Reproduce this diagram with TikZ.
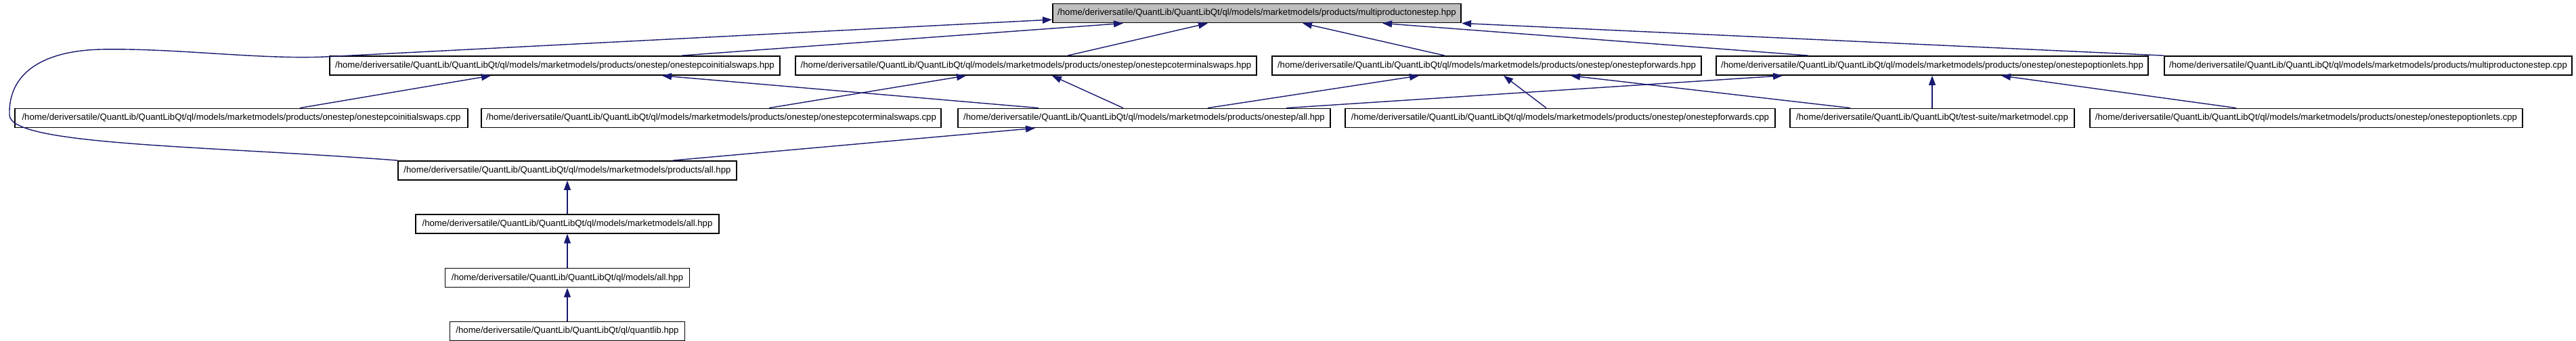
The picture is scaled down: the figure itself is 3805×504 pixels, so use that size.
\documentclass[tikz,border=0pt]{standalone}
\usepackage{fontspec}
\newfontfamily\doxfont{Liberation Sans}
\usetikzlibrary{arrows.meta, positioning, calc}
\definecolor{edgeblue}{HTML}{191970}
\definecolor{rootgray}{HTML}{BFBFBF}
\newcommand{\qlhome}{/home/deriversatile/QuantLib/QuantLibQt}
\newcommand{\mmprod}{\qlhome/ql/models/marketmodels/products}

\begin{document}
\begin{tikzpicture}[x=0.01cm, y=-0.01cm, >={Triangle[length=0.14cm, width=0.1cm]},
  filebox/.style={draw, line width=0.5pt, fill=white, minimum height=0.28cm,
                  inner sep=0pt, font=\doxfont\fontsize{3.75}{4.5}\selectfont},
  inc/.style={->, draw=edgeblue, line width=0.4pt}]
  \useasboundingbox (0,0) rectangle (3805,504);

  % the header itself
  \node[filebox, fill=rootgray, minimum width=6.03cm] (rt) at (1856.5,19.5)
    {\mmprod/multiproductonestep.hpp};

  % files that include it
  \node[filebox, minimum width=6.65cm] (cih) at (819.5,97) {\mmprod/onestep/onestepcoinitialswaps.hpp};
  \node[filebox, minimum width=6.81cm] (cth) at (1515.5,97) {\mmprod/onestep/onestepcoterminalswaps.hpp};
  \node[filebox, minimum width=6.34cm] (fwh) at (2196,97) {\mmprod/onestep/onestepforwards.hpp};
  \node[filebox, minimum width=6.38cm] (oph) at (2854,97) {\mmprod/onestep/onestepoptionlets.hpp};
  \node[filebox, minimum width=6.02cm] (mpc) at (3498,97) {\mmprod/multiproductonestep.cpp};

  \node[filebox, minimum width=6.69cm] (cic) at (356.5,174.5) {\mmprod/onestep/onestepcoinitialswaps.cpp};
  \node[filebox, minimum width=6.79cm] (ctc) at (1050.5,174.5) {\mmprod/onestep/onestepcoterminalswaps.cpp};
  \node[filebox, minimum width=5.50cm] (osa) at (1690,174.5) {\mmprod/onestep/all.hpp};
  \node[filebox, minimum width=6.35cm] (fwc) at (2304.5,174.5) {\mmprod/onestep/onestepforwards.cpp};
  \node[filebox, minimum width=4.20cm] (mmc) at (2854,174.5) {\qlhome/test-suite/marketmodel.cpp};
  \node[filebox, minimum width=6.39cm] (opc) at (3406.5,174.5) {\mmprod/onestep/onestepoptionlets.cpp};

  \node[filebox, minimum width=5.00cm] (pall) at (838,252) {\mmprod/all.hpp};
  \node[filebox, minimum width=4.47cm, below=0.49cm of pall] (mall) {\qlhome/ql/models/marketmodels/all.hpp};
  \node[filebox, minimum width=3.61cm, below=0.5cm of mall] (qall) {\qlhome/ql/models/all.hpp};
  \node[filebox, minimum width=3.47cm, below=0.49cm of qall] (ql) {\qlhome/ql/quantlib.hpp};

  % include edges
  \draw[inc] ($(cih.north)+(187.5,0)$) -- ($(rt.south)+(-197.5,0)$);
  \draw[inc] ($(cth.north)+(61.5,0)$) -- ($(rt.south)+(-72.5,0)$);
  \draw[inc] ($(fwh.north)+(-62,0)$) -- ($(rt.south)+(67.5,0)$);
  \draw[inc] ($(oph.north)+(-183,0)$) -- ($(rt.south)+(185.5,0)$);
  \draw[inc] (mpc.north west) -- (rt.south east);
  \draw[inc] (pall.north west) .. controls (300,215) and (15,215) .. (14,170)
    .. controls (12,110) and (60,75) .. (150,73)
    .. controls (260,71) and (380,88) .. (480,84)
    -- ($(rt.west)+(0,9.5)$);

  \draw[inc] ($(cic.north)+(86.5,0)$) -- ($(cih.south)+(-94.5,0)$);
  \draw[inc] ($(osa.north)+(-156,0)$) -- ($(cih.south)+(158.5,0)$);
  \draw[inc] ($(ctc.north)+(85.5,0)$) -- ($(cth.south)+(-88.5,0)$);
  \draw[inc] ($(osa.north)+(-31,0)$) -- ($(cth.south)+(38.5,0)$);
  \draw[inc] ($(osa.north)+(94,0)$) -- ($(fwh.south)+(-100,0)$);
  \draw[inc] ($(fwc.north)+(-20.5,0)$) -- ($(fwh.south)+(25,0)$);
  \draw[inc] ($(mmc.north)+(-121,0)$) -- ($(fwh.south)+(124,0)$);
  \draw[inc] ($(osa.north)+(210,0)$) -- ($(oph.south)+(-221,0)$);
  \draw[inc] (mmc) -- (oph);
  \draw[inc] ($(opc.north)+(-103.5,0)$) -- ($(oph.south)+(102,0)$);

  \draw[inc] ($(pall.north)+(156,0)$) -- ($(osa.south)+(-161,0)$);
  \draw[inc] (mall) -- (pall);
  \draw[inc] (qall) -- (mall);
  \draw[inc] (ql) -- (qall);
\end{tikzpicture}
\end{document}
